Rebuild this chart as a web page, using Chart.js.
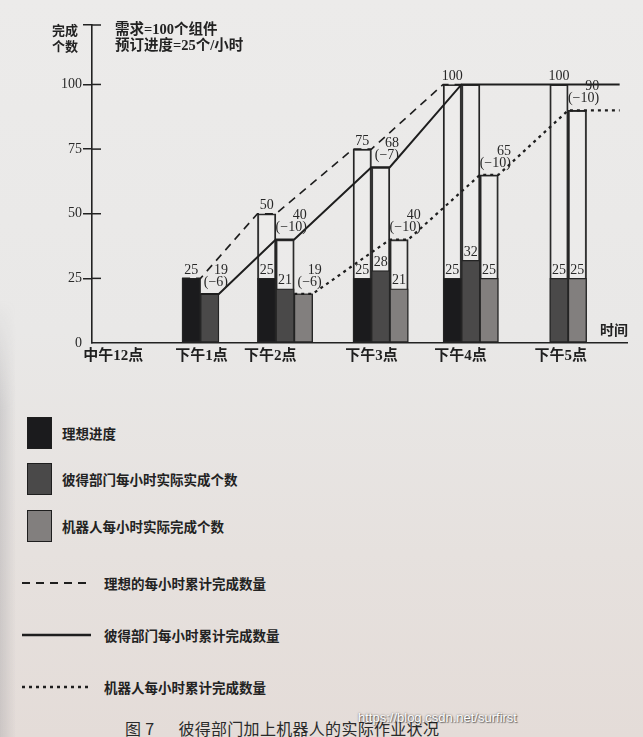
<!DOCTYPE html>
<html lang="zh-CN">
<head>
<meta charset="utf-8">
<title>彼得部门加上机器人的实际作业状况</title>
<script src="https://cdn.jsdelivr.net/npm/chart.js@4.4.1/dist/chart.umd.min.js"></script>
<style>
  html, body { margin: 0; padding: 0; }
  body {
    width: 643px; height: 737px; overflow: hidden; position: relative;
    background: linear-gradient(180deg, #ecebea 0%, #e9e8e7 45%, #e6e1de 75%, #e4dcd8 100%);
    font-family: "Noto Sans CJK SC", sans-serif; color: #222;
  }
  #edge { position: absolute; left: 0; top: 300px; width: 16px; height: 437px;
    background: linear-gradient(90deg, rgba(140,140,146,.28), rgba(140,140,146,0));
    -webkit-mask-image: linear-gradient(180deg, transparent 0, #000 110px);
    mask-image: linear-gradient(180deg, transparent 0, #000 110px); }
  #wrap { position: absolute; left: 0; top: 0; width: 643px; height: 372px; }
  .t { position: absolute; white-space: nowrap; font-weight: bold; }
  .ytitle { left: 52px; top: 22px; font-size: 13px; line-height: 16px; }
  .note { left: 115px; font-size: 14.5px; line-height: 16px; font-family: "Liberation Serif", "Noto Sans CJK SC", serif; }
  .xtitle { left: 600px; top: 321px; font-size: 14px; line-height: 16px; }
  .row { position: absolute; left: 0; white-space: nowrap; font-weight: bold; font-size: 13.5px; }
  .sw { position: absolute; left: 27px; top: 0; width: 23px; height: 30px; border: 1.5px solid #1e1e1e; }
  .cap { position: absolute; left: 125px; top: 716px; font-size: 16px; line-height: 24px; letter-spacing: .3px; color: #2a2a2a; white-space: nowrap; }
  .wm { position: absolute; left: 358px; top: 710px; font: 13px "Liberation Sans", Arial, sans-serif; color: #fff;
    text-shadow: 0 0 2px rgba(0,0,0,.55), 1px 1px 1px rgba(0,0,0,.45); white-space: nowrap; }
</style>
</head>
<body>
<div id="edge"></div>
<div id="wrap"><canvas id="chart"></canvas></div>
<div class="t ytitle">完成<br>个数</div>
<div class="t note" style="top:21px">需求=100个组件</div>
<div class="t note" style="top:37px">预订进度=25个/小时</div>
<div class="t xtitle">时间</div>
<div id="legend"></div>
<div class="cap">图 7<span style="margin-left:24px">彼得部门加上机器人的实际作业状况</span></div>
<div class="wm">https://blog.csdn.net/surfirst</div>
<script>
// 数据 (每小时)
const hourLabels  = ['中午12点', '下午1点', '下午2点', '下午3点', '下午4点', '下午5点'];
const idealHourly = [null, 25, 25, 25, 25, null];
const idealTotal  = [null, 25, 50, 75, 100, null];
const peterHourly = [null, 19, 21, 28, 32, 25];
const peterTotal  = [null, 19, 40, 68, 100, 100];
const peterGap    = [null, -6, -10, -7, null, null];
const robotHourly = [null, null, 19, 21, 25, 25];
const robotTotal  = [null, null, 19, 40, 65, 90];
const robotGap    = [null, null, -6, -10, -10, -10];
const yTicks = [0, 25, 50, 75, 100];

// 书上的时间轴是手画的, 间距不均 (单位: 柱宽)
const groupX = [1.1, 5.9, 10.5, 15.7, 20.6, 25.9];
const labelX = [1.15, 5.95, 9.7, 15.2, 20.05, 25.5];
const xEnd = 29.1;
const yTop = 123;

const hourlySets = [idealHourly, peterHourly, robotHourly];

function barX(i, s) {
    const present = hourlySets.map(a => a[i] != null);
    const n = present.filter(Boolean).length;
    const k = present.slice(0, s).filter(Boolean).length;
    return groupX[i] + k - (n - 1) / 2;
}

function hourBars(s, hourly, total, gap) {
    const out = [];
    hourly.forEach((v, i) => {
        if (v == null) return;
        const dup = total[i] === v && gap && gap[i] != null;
        out.push({ x: barX(i, s), y: v, show: !dup });
    });
    return out;
}

function boxBars(s, hourly, total, gap) {
    const out = [];
    total.forEach((v, i) => {
        if (v == null) return;
        const g = gap ? gap[i] : null;
        let show = v !== hourly[i] || g != null;
        if (s > 0 && v === idealTotal[i]) show = false;
        out.push({ x: barX(i, s), y: v, gap: g, show: show });
    });
    return out;
}

function totalLine(s, total, tail) {
    const pts = [];
    total.forEach((v, i) => {
        if (v == null) return;
        const x = barX(i, s);
        pts.push({ x: x - 0.5, y: v }, { x: x + 0.5, y: v });
    });
    if (tail) pts.push({ x: xEnd - 0.4, y: pts[pts.length - 1].y });
    return pts;
}

const barCommon = { type: 'bar', grouped: false, categoryPercentage: 1, barPercentage: 1,
    borderColor: '#242424', borderWidth: 1.3, borderSkipped: false };
const boxCommon = Object.assign({}, barCommon, { backgroundColor: 'rgba(255,255,255,0.12)', order: 2 });
const lineCommon = { type: 'line', borderColor: '#1e1e1e', pointRadius: 0, tension: 0, fill: false, order: 0 };

const datasets = [
    Object.assign({}, barCommon, { label: '理想进度', tag: 'hour', order: 1,
        backgroundColor: '#1b1b1d', data: hourBars(0, idealHourly, idealTotal, null) }),
    Object.assign({}, barCommon, { label: '彼得部门每小时实际实成个数', tag: 'hour', order: 1,
        backgroundColor: '#4a4949', data: hourBars(1, peterHourly, peterTotal, peterGap) }),
    Object.assign({}, barCommon, { label: '机器人每小时实际完成个数', tag: 'hour', order: 1,
        backgroundColor: '#827f7e', data: hourBars(2, robotHourly, robotTotal, robotGap) }),
    Object.assign({}, lineCommon, { label: '理想的每小时累计完成数量', borderWidth: 1.6, borderDash: [8, 6],
        data: totalLine(0, idealTotal, false) }),
    Object.assign({}, lineCommon, { label: '彼得部门每小时累计完成数量', borderWidth: 2,
        data: totalLine(1, peterTotal, true) }),
    Object.assign({}, lineCommon, { label: '机器人每小时累计完成数量', borderWidth: 2.2, borderDash: [3, 4],
        data: totalLine(2, robotTotal, true) }),
    Object.assign({}, boxCommon, { tag: 'total', data: boxBars(0, idealHourly, idealTotal, null) }),
    Object.assign({}, boxCommon, { tag: 'total', data: boxBars(1, peterHourly, peterTotal, peterGap) }),
    Object.assign({}, boxCommon, { tag: 'total', data: boxBars(2, robotHourly, robotTotal, robotGap) })
];

// 柱上的数字, 以及 "19 (−6)" 这样的差额
const valueLabels = {
    id: 'valueLabels',
    afterDatasetsDraw(chart) {
        const ctx = chart.ctx;
        ctx.save();
        ctx.font = '14px "Liberation Serif", serif';
        ctx.fillStyle = '#272727';
        ctx.textBaseline = 'bottom';
        chart.data.datasets.forEach((ds, di) => {
            if (!ds.tag) return;
            chart.getDatasetMeta(di).data.forEach((bar, j) => {
                const p = ds.data[j];
                if (!p.show) return;
                if (p.gap == null) {
                    ctx.textAlign = 'center';
                    ctx.fillText(String(p.y), bar.x, bar.y - 1);
                    return;
                }
                const right = bar.x + bar.width / 2;
                const line2 = '(−' + Math.abs(p.gap) + ')';
                const w2 = ctx.measureText(line2).width;
                const cx = right - 3;
                const b2 = bar.y - 5;
                ctx.textAlign = 'center';
                ctx.fillText(line2, cx, b2);
                ctx.textAlign = 'right';
                ctx.fillText(String(p.y), cx + w2 / 2, b2 - 12);
            });
        });
        ctx.restore();
    }
};

// 纵轴刻度穿过轴线
const crossTicks = {
    id: 'crossTicks',
    afterDraw(chart) {
        const y = chart.scales.y, ctx = chart.ctx;
        ctx.save();
        ctx.strokeStyle = '#222';
        ctx.lineWidth = 1.5;
        y.ticks.forEach(t => {
            if (t.value === 0) return;
            const py = y.getPixelForValue(t.value);
            ctx.beginPath();
            ctx.moveTo(y.right, py);
            ctx.lineTo(y.right + 9, py);
            ctx.stroke();
        });
        ctx.restore();
    }
};

const chart = new Chart(document.getElementById('chart'), {
    type: 'bar',
    data: { datasets: datasets },
    options: {
        responsive: true,
        maintainAspectRatio: false,
        animation: false,
        events: [],
        layout: { padding: { top: 25, right: 16, left: 0, bottom: 0 } },
        plugins: { legend: { display: false }, tooltip: { enabled: false } },
        scales: {
            x: {
                type: 'linear', min: 0, max: xEnd, offset: false,
                grid: { display: false, drawTicks: false, offset: false },
                border: { display: true, color: '#222', width: 1.6 },
                afterBuildTicks: s => { s.ticks = labelX.map(v => ({ value: v })); },
                afterFit: s => { s.height = 29; },
                ticks: {
                    autoSkip: false, maxRotation: 0, padding: 4, color: '#1f1f1f',
                    font: { family: '"Liberation Serif", "Noto Sans CJK SC", serif', size: 15, weight: 'bold' },
                    callback: (v, i) => hourLabels[i]
                }
            },
            y: {
                type: 'linear', min: 0, max: yTop,
                grid: { drawOnChartArea: false, tickLength: 9, lineWidth: 1.5,
                        color: c => (c.tick && c.tick.value === 0) ? 'rgba(0,0,0,0)' : '#222' },
                border: { display: true, color: '#222', width: 1.6 },
                afterBuildTicks: s => { s.ticks = yTicks.concat([yTop]).map(v => ({ value: v })); },
                afterFit: s => { s.width = 92; },
                ticks: {
                    padding: 1, color: '#2a2a2a',
                    font: { family: '"Liberation Serif", serif', size: 14 },
                    callback: v => v === yTop ? '' : String(v)
                }
            }
        }
    },
    plugins: [valueLabels, crossTicks]
});

// 图例 (竖排, 放在图下方)
const legendEl = document.getElementById('legend');
const rowTops = [417, 463, 510, 569, 621, 673];
chart.data.datasets.filter(d => d.label).forEach((d, i) => {
    const row = document.createElement('div');
    row.className = 'row';
    row.style.top = rowTops[i] + 'px';
    if (d.type === 'bar') {
        row.style.height = '33px';
        row.innerHTML = '<span class="sw" style="background:' + d.backgroundColor + '"></span>' +
            '<span style="position:absolute;left:62px;line-height:33px">' + d.label + '</span>';
    } else {
        row.style.height = '28px';
        const c = document.createElement('canvas');
        c.width = 72; c.height = 28;
        c.style.cssText = 'position:absolute;left:21px;top:0';
        const g = c.getContext('2d');
        g.strokeStyle = d.borderColor;
        g.lineWidth = d.borderWidth + 0.3;
        g.setLineDash(d.borderDash || []);
        g.beginPath(); g.moveTo(1, 14); g.lineTo(70, 14); g.stroke();
        row.appendChild(c);
        const s = document.createElement('span');
        s.style.cssText = 'position:absolute;left:104px;line-height:28px';
        s.textContent = d.label;
        row.appendChild(s);
    }
    legendEl.appendChild(row);
});
</script>
</body>
</html>
